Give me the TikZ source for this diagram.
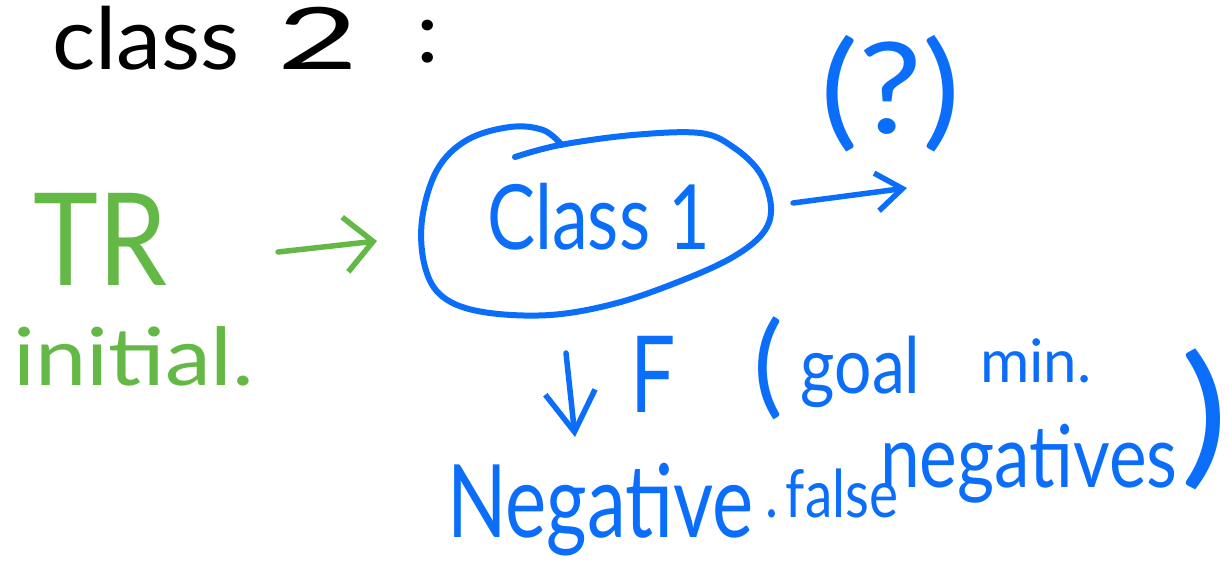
\documentclass[tikz,border=0pt]{standalone}
\usepackage{fontspec}
\setmainfont{Lato}
\usepackage{graphicx}
\usetikzlibrary{arrows.meta}
\definecolor{inkblue}{RGB}{10,110,250}
\definecolor{inkgreen}{RGB}{100,185,70}
\newcommand{\hw}[4]{\scalebox{#2}[#3]{\fontsize{#1}{#1}\selectfont #4}}
\begin{document}
\begin{tikzpicture}[x=1pt,y=-1pt,
  txt/.style={inner sep=0pt, outer sep=0pt, anchor=base west},
  pen/.style={line width=5.5pt, line cap=round, line join=round},
  bigbarb/.style={-{Straight Barb[length=28pt,width=55pt]}},
  midbarb/.style={-{Straight Barb[length=26pt,width=38pt]}},
  downbarb/.style={-{Straight Barb[length=40pt,width=50pt]}}]
\useasboundingbox (0,0) rectangle (1229,588);
\fill[white] (0,0) rectangle (1229,588);

% black heading
\node[txt, black] (c2) at (52,70) {\hw{86}{1.05}{1}{class\hspace{36pt}\scalebox{1.55}[1]{2}\hspace{55pt}\raisebox{7pt}{:}}};

% green
\node[txt, inkgreen] (tr) at (33,285) {\hw{110}{1}{1.17}{TR}};
\node[txt, inkgreen] (init) at (13,385) {\hw{80}{1.15}{1}{initial.}};

% blue blob with Class 1
\node[txt, inkblue] (c1) at (487,250) {\hw{72}{1}{1.25}{Class 1}};
\draw[pen, line width=6pt, inkblue] plot[smooth, tension=0.6] coordinates {(515,157) (560,145) (633,135) (700,133) (733,147) (760,173) (771,207) (763,233) (733,257) (683,280) (617,303) (550,315) (483,312) (443,297) (425,267) (422,220) (437,170) (467,140) (510,127) (543,130) (562,145)};

% (?)
\node[txt, inkblue] (q) at (820,134) {\hw{110}{1.3}{1.15}{(?)}};

% F (goal min. ... )
\node[txt, inkblue] (f) at (630,412) {\hw{80}{1}{1.33}{F}};
\node[txt, inkblue] (goal) at (753,403) {\hw{112}{1}{1}{(}\hspace{18pt}\raisebox{10pt}{\hw{60}{1.1}{1.3}{goal}}};
\node[txt, inkblue] (min) at (980,382) {\hw{60}{1}{1}{min.}};
\node[txt, inkblue] (rp) at (1180,467) {\hw{150}{1.2}{1.02}{)}};
\node[txt, inkblue] (neg) at (447,537) {\hw{78}{1}{1.3}{Negative}};
\node[txt, inkblue] (fal) at (765,517) {\hw{55}{1}{1.2}{.\hspace{8pt}false}};
\node[txt, inkblue] (negs) at (880,487) {\hw{72}{0.99}{1.2}{negatives}};

% arrows
\coordinate (ga) at (278,252);
\coordinate (gb) at (377,241);
\draw[pen, inkgreen, bigbarb] (ga) -- (gb);
\coordinate (ba) at (793,203);
\coordinate (bb) at (907,188);
\draw[pen, inkblue, midbarb] (ba) -- (bb);
\coordinate (da) at (566,353);
\coordinate (db) at (575,437);
\draw[pen, inkblue, downbarb] (da) -- (db);
\end{tikzpicture}
\end{document}
